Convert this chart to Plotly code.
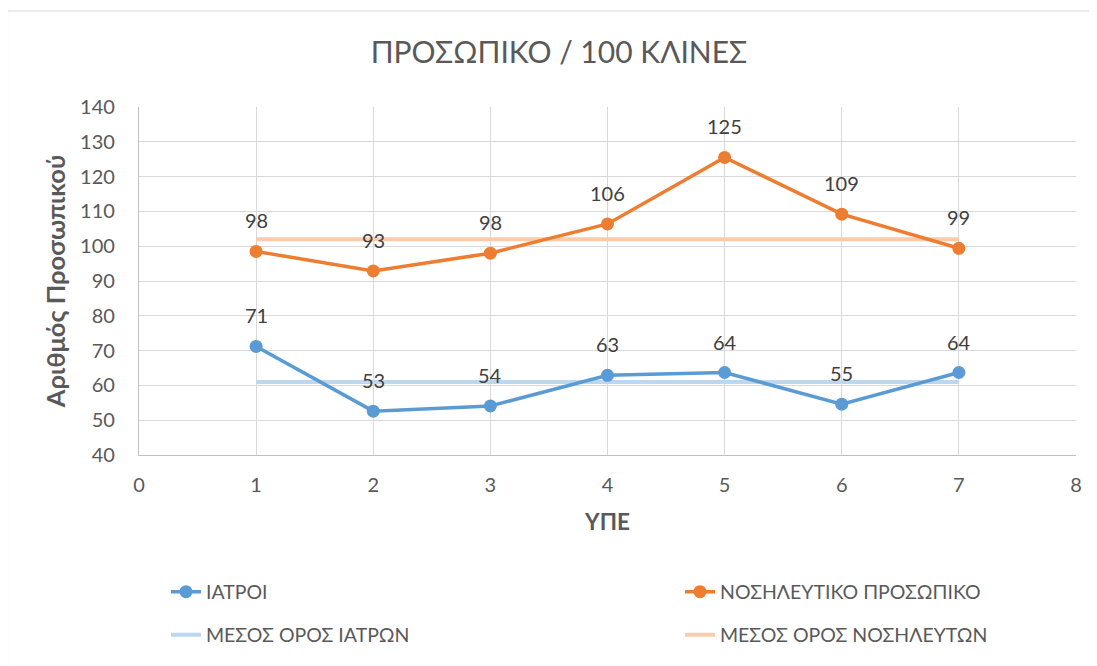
import plotly.graph_objects as go

ype = [1, 2, 3, 4, 5, 6, 7]
iatroi = [71.2, 52.6, 54.1, 62.9, 63.7, 54.6, 63.7]
iatroi_labels = ["71", "53", "54", "63", "64", "55", "64"]
nosil = [98.5, 92.9, 98.0, 106.4, 125.5, 109.2, 99.4]
nosil_labels = ["98", "93", "98", "106", "125", "109", "99"]
mesos_iatron = [61, 61, 61, 61, 61, 61, 61]
mesos_nosil = [102, 102, 102, 102, 102, 102, 102]

FONT = "Lato, Open Sans, sans-serif"
GRAY = "#595959"
BLUE = "#5B9BD5"
ORANGE = "#ED7D31"
LBLUE = "#BDD7EE"
LORANGE = "#F8CBAD"

OFF = 8  # page body margin
W, H = 1097 - OFF, 666 - OFF
L, R, T, B = 139 - OFF, 1076 - OFF, 107 - OFF, 455 - OFF
pw, ph = R - L, B - T


def px_x(x):
    return (x - OFF - L) / pw


def px_y(y):
    return (B - (y - OFF)) / ph


fig = go.Figure()
fig.add_trace(go.Scatter(x=ype, y=mesos_iatron, mode="lines", name="ΜΕΣΟΣ ΟΡΟΣ ΙΑΤΡΩΝ",
                         line=dict(color=LBLUE, width=4), legend="legend3"))
fig.add_trace(go.Scatter(x=ype, y=mesos_nosil, mode="lines", name="ΜΕΣΟΣ ΟΡΟΣ ΝΟΣΗΛΕΥΤΩΝ",
                         line=dict(color=LORANGE, width=4), legend="legend4"))
fig.add_trace(go.Scatter(x=ype, y=iatroi, mode="lines+markers", name="ΙΑΤΡΟΙ",
                         line=dict(color=BLUE, width=3.5), marker=dict(size=13, color=BLUE),
                         legend="legend"))
fig.add_trace(go.Scatter(x=ype, y=nosil, mode="lines+markers", name="ΝΟΣΗΛΕΥΤΙΚΟ ΠΡΟΣΩΠΙΚΟ",
                         line=dict(color=ORANGE, width=3.5), marker=dict(size=13, color=ORANGE),
                         legend="legend2"))

for xs, ys, labs in ((ype, iatroi, iatroi_labels), (ype, nosil, nosil_labels)):
    for xv, yv, t in zip(xs, ys, labs):
        fig.add_annotation(x=xv, y=yv, text=t, showarrow=False, yshift=31,
                           font=dict(family=FONT, size=20, color="#404040"))

fig.add_shape(type="rect", xref="paper", yref="paper",
              x0=px_x(7.5), x1=px_x(1120), y0=px_y(700), y1=px_y(11),
              line=dict(color="#D9D9D9", width=1.2), fillcolor="rgba(0,0,0,0)", layer="below")

legfont = dict(family=FONT, size=19.5, color=GRAY)


def leg(xp, yp):
    return dict(x=px_x(xp), xanchor="left", y=px_y(yp), yanchor="middle",
                font=legfont, itemwidth=30, bgcolor="rgba(0,0,0,0)", borderwidth=0)


fig.update_layout(
    width=W, height=H,
    margin=dict(l=L, r=W - R, t=T, b=H - B, autoexpand=False),
    paper_bgcolor="white", plot_bgcolor="white",
    title=dict(text="ΠΡΟΣΩΠΙΚΟ / 100 ΚΛΙΝΕΣ", xref="container", x=(559 - OFF) / W, xanchor="center",
               y=1 - (52 - OFF) / H, yanchor="middle",
               font=dict(family=FONT, size=30, color=GRAY)),
    font=dict(family=FONT, color=GRAY),
    xaxis=dict(range=[0, 8], dtick=1, tick0=0, showgrid=True, gridcolor="#D9D9D9", gridwidth=1.2,
               zeroline=False, showline=True, linecolor="#BFBFBF", linewidth=1.2,
               ticks="", tickfont=dict(family=FONT, size=20, color=GRAY), ticklabelstandoff=12,
               title=dict(text="<b>ΥΠΕ</b>", font=dict(family=FONT, size=22.5, color=GRAY), standoff=19)),
    yaxis=dict(range=[40, 140], dtick=10, showgrid=True, gridcolor="#D9D9D9", gridwidth=1.2,
               zeroline=False, showline=True, linecolor="#BFBFBF", linewidth=1.2,
               ticks="", tickfont=dict(family=FONT, size=20, color=GRAY), ticklabelstandoff=19,
               title=dict(text="<b>Αριθμός Προσωπικού</b>", font=dict(family=FONT, size=25.5, color=GRAY),
                          standoff=7)),
    legend=leg(166, 592),
    legend2=leg(680, 592),
    legend3=leg(166, 635),
    legend4=leg(680, 635),
    showlegend=True,
)

fig.write_html("out.html")
